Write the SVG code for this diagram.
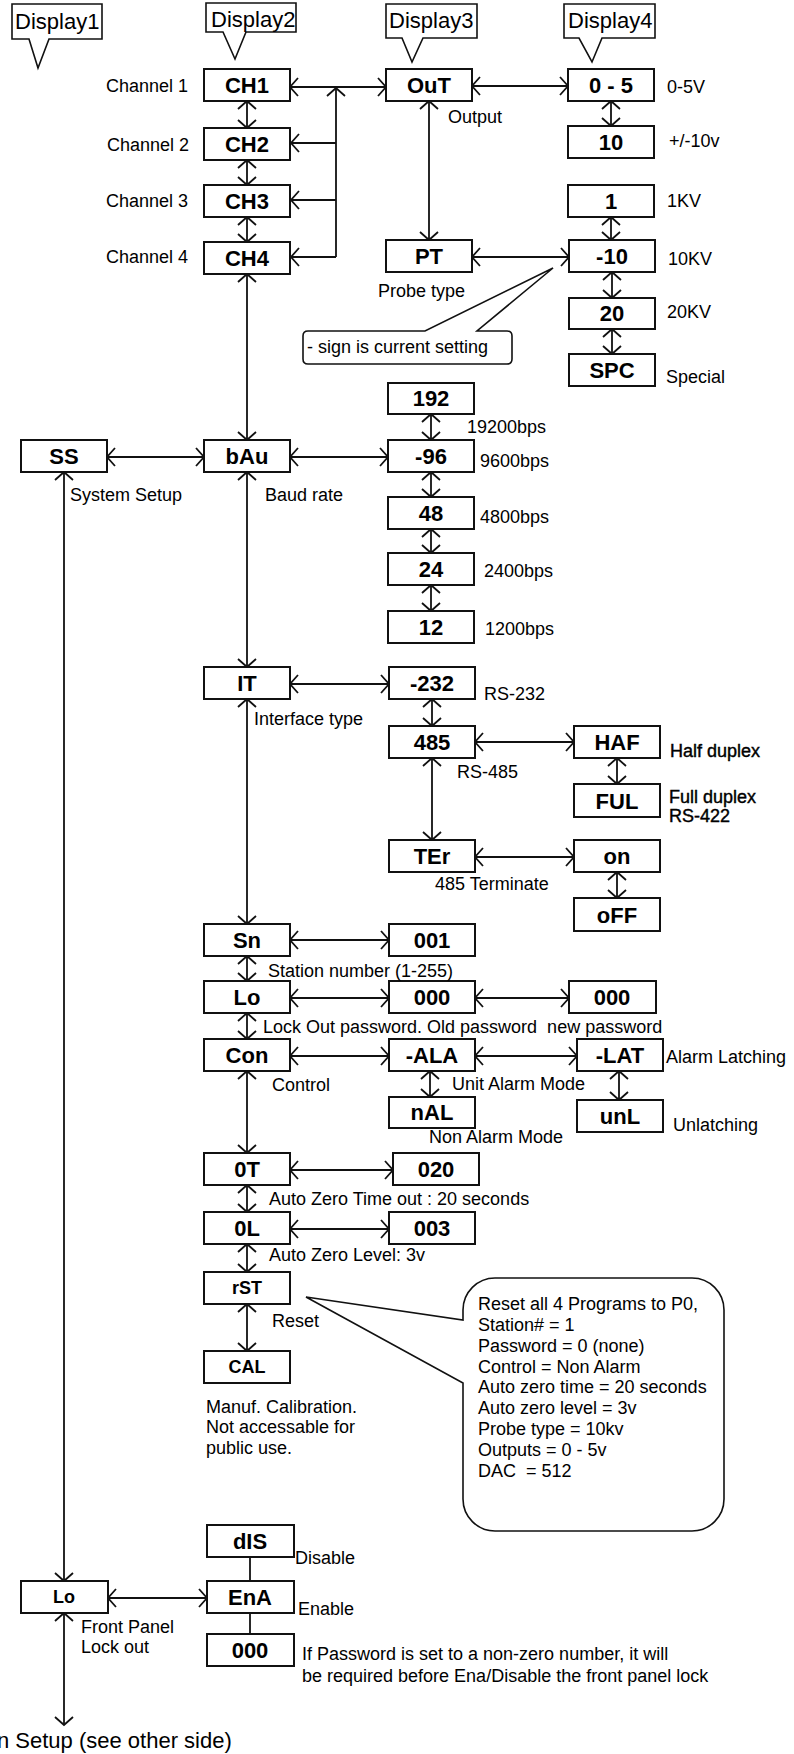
<svg xmlns="http://www.w3.org/2000/svg" width="794" height="1754" viewBox="0 0 794 1754">
<defs>
<style>
.box{fill:#fff;stroke:#111;stroke-width:2}
.co{fill:#fff;stroke:#111;stroke-width:1.6}
.bt{font-family:"Liberation Sans",Arial,sans-serif;font-weight:bold;font-size:22px;text-anchor:middle;fill:#000}
.bs{font-family:"Liberation Sans",Arial,sans-serif;font-weight:bold;font-size:18px;text-anchor:middle;fill:#000}
.lb{font-family:"Liberation Sans",Arial,sans-serif;font-size:18px;fill:#000;white-space:pre}
.hv{stroke:#000;stroke-width:0.4}
.dt{font-family:"Liberation Sans",Arial,sans-serif;font-size:22px;fill:#000}
.cn{fill:none;stroke:#111;stroke-width:1.8;marker-start:url(#a);marker-end:url(#a)}
.c1{fill:none;stroke:#111;stroke-width:1.8;marker-end:url(#a)}
.c0{fill:none;stroke:#111;stroke-width:1.8}
</style>
<marker id="a" viewBox="-12 -11 15 22" refX="0" refY="0" markerWidth="15" markerHeight="22" markerUnits="userSpaceOnUse" orient="auto-start-reverse">
<path d="M-8,-9 L0,0 L-8,9" fill="none" stroke="#111" stroke-width="1.8"/>
</marker>
</defs>
<rect width="794" height="1754" fill="#fff"/>

<g id="callouts">
<g id="display1"><path class="co" d="M12,4 H102 V39 H49 L38,68 L29,39 H12 Z"/><text class="dt" x="15" y="29">Display1</text></g>
<g id="display2"><path class="co" d="M206,3 H296 V32 H246 L235,59 L223,32 H206 Z"/><text class="dt" x="211" y="27">Display2</text></g>
<g id="display3"><path class="co" d="M386,4 H477 V38 H423 L412,62 L402,38 H386 Z"/><text class="dt" x="389" y="28">Display3</text></g>
<g id="display4"><path class="co" d="M564,4 H655 V38 H602 L592,62 L579,38 H564 Z"/><text class="dt" x="568" y="28">Display4</text></g>
<g id="note-sign"><path class="co" d="M308,331 H425 L553,268 L477,331 H507 Q512,331 512,336 V359 Q512,364 507,364 H308 Q303,364 303,359 V336 Q303,331 308,331 Z"/><text class="lb" x="307" y="353">- sign is current setting</text></g>
<g id="note-reset"><path class="co" d="M495,1278 H692 A32,32 0 0 1 724,1310 V1499 A32,32 0 0 1 692,1531 H495 A32,32 0 0 1 463,1499 V1383 L306,1297 L463,1320 V1310 A32,32 0 0 1 495,1278 Z"/>
<text class="lb" x="478" y="1310">Reset all 4 Programs to P0,</text>
<text class="lb" x="478" y="1331">Station# = 1</text>
<text class="lb" x="478" y="1352">Password = 0 (none)</text>
<text class="lb" x="478" y="1373">Control = Non Alarm</text>
<text class="lb" x="478" y="1393">Auto zero time = 20 seconds</text>
<text class="lb" x="478" y="1414">Auto zero level = 3v</text>
<text class="lb" x="478" y="1435">Probe type = 10kv</text>
<text class="lb" x="478" y="1456">Outputs = 0 - 5v</text>
<text class="lb" x="478" y="1477" xml:space="preserve">DAC  = 512</text>
</g>
</g>

<g id="connectors">
<path class="cn" d="M290,87 H386"/>
<path class="c1" d="M336,257 V88"/>
<path class="c1" d="M336,143 H291"/>
<path class="c1" d="M336,200 H291"/>
<path class="c1" d="M336,257 H291"/>
<path class="cn" d="M247,101 V128"/>
<path class="cn" d="M247,160 V185"/>
<path class="cn" d="M247,217 V242"/>
<path class="cn" d="M472,86 H568"/>
<path class="cn" d="M611,101 V126"/>
<path class="cn" d="M429,101 V240"/>
<path class="cn" d="M472,257 H569"/>
<path class="cn" d="M611,217 V240"/>
<path class="cn" d="M612,272 V298"/>
<path class="cn" d="M612,329 V354"/>
<path class="cn" d="M247,274 V440"/>
<path class="cn" d="M107,457 H204"/>
<path class="cn" d="M290,457 H388"/>
<path class="cn" d="M431,414 V440"/>
<path class="cn" d="M431,472 V497"/>
<path class="cn" d="M431,529 V553"/>
<path class="cn" d="M431,585 V611"/>
<path class="cn" d="M247,472 V667"/>
<path class="cn" d="M290,684 H389"/>
<path class="cn" d="M432,699 V726"/>
<path class="cn" d="M475,742 H574"/>
<path class="cn" d="M617,758 V784"/>
<path class="cn" d="M432,758 V840"/>
<path class="cn" d="M475,857 H574"/>
<path class="cn" d="M617,872 V898"/>
<path class="cn" d="M247,699 V924"/>
<path class="cn" d="M290,940 H389"/>
<path class="cn" d="M247,956 V981"/>
<path class="cn" d="M290,998 H389"/>
<path class="cn" d="M475,998 H569"/>
<path class="cn" d="M247,1013 V1039"/>
<path class="cn" d="M290,1056 H389"/>
<path class="cn" d="M475,1056 H577"/>
<path class="cn" d="M430,1071 V1097"/>
<path class="cn" d="M619,1071 V1100"/>
<path class="cn" d="M247,1071 V1153"/>
<path class="cn" d="M290,1170 H393"/>
<path class="cn" d="M247,1185 V1212"/>
<path class="cn" d="M290,1229 H389"/>
<path class="cn" d="M247,1244 V1272"/>
<path class="cn" d="M247,1304 V1351"/>
<path class="cn" d="M64,472 V1581"/>
<path class="cn" d="M108,1598 H207"/>
<path class="c0" d="M250,1557 V1581"/>
<path class="c0" d="M250,1613 V1634"/>
<path class="cn" d="M64,1613 V1725"/>
</g>

<g id="nodes">
<g id="ch1"><rect class="box" x="204" y="69" width="86" height="32"/><text class="bt" x="247" y="93">CH1</text></g>
<g id="ch2"><rect class="box" x="204" y="128" width="86" height="32"/><text class="bt" x="247" y="152">CH2</text></g>
<g id="ch3"><rect class="box" x="204" y="185" width="86" height="32"/><text class="bt" x="247" y="209">CH3</text></g>
<g id="ch4"><rect class="box" x="204" y="242" width="86" height="32"/><text class="bt" x="247" y="266">CH4</text></g>
<g id="out"><rect class="box" x="386" y="69" width="86" height="32"/><text class="bt" x="429" y="93">OuT</text></g>
<g id="pt"><rect class="box" x="386" y="240" width="86" height="32"/><text class="bt" x="429" y="264">PT</text></g>
<g id="o05"><rect class="box" x="568" y="69" width="86" height="32"/><text class="bt" x="611" y="93">0 - 5</text></g>
<g id="o10"><rect class="box" x="568" y="126" width="86" height="32"/><text class="bt" x="611" y="150">10</text></g>
<g id="p1"><rect class="box" x="568" y="185" width="86" height="32"/><text class="bt" x="611" y="209">1</text></g>
<g id="p10"><rect class="box" x="569" y="240" width="86" height="32"/><text class="bt" x="612" y="264">-10</text></g>
<g id="p20"><rect class="box" x="569" y="298" width="86" height="31"/><text class="bt" x="612" y="321">20</text></g>
<g id="spc"><rect class="box" x="569" y="354" width="86" height="32"/><text class="bt" x="612" y="378">SPC</text></g>
<g id="ss"><rect class="box" x="21" y="440" width="86" height="32"/><text class="bt" x="64" y="464">SS</text></g>
<g id="bau"><rect class="box" x="204" y="440" width="86" height="32"/><text class="bt" x="247" y="464">bAu</text></g>
<g id="b192"><rect class="box" x="388" y="383" width="86" height="31"/><text class="bt" x="431" y="406">192</text></g>
<g id="b96"><rect class="box" x="388" y="440" width="86" height="32"/><text class="bt" x="431" y="464">-96</text></g>
<g id="b48"><rect class="box" x="388" y="497" width="86" height="32"/><text class="bt" x="431" y="521">48</text></g>
<g id="b24"><rect class="box" x="388" y="553" width="86" height="32"/><text class="bt" x="431" y="577">24</text></g>
<g id="b12"><rect class="box" x="388" y="611" width="86" height="32"/><text class="bt" x="431" y="635">12</text></g>
<g id="it"><rect class="box" x="204" y="667" width="86" height="32"/><text class="bt" x="247" y="691">IT</text></g>
<g id="i232"><rect class="box" x="389" y="667" width="86" height="32"/><text class="bt" x="432" y="691">-232</text></g>
<g id="i485"><rect class="box" x="389" y="726" width="86" height="32"/><text class="bt" x="432" y="750">485</text></g>
<g id="haf"><rect class="box" x="574" y="726" width="86" height="32"/><text class="bt" x="617" y="750">HAF</text></g>
<g id="ful"><rect class="box" x="574" y="784" width="86" height="33"/><text class="bt" x="617" y="809">FUL</text></g>
<g id="ter"><rect class="box" x="389" y="840" width="86" height="32"/><text class="bt" x="432" y="864">TEr</text></g>
<g id="on"><rect class="box" x="574" y="840" width="86" height="32"/><text class="bt" x="617" y="864">on</text></g>
<g id="off"><rect class="box" x="574" y="898" width="86" height="33"/><text class="bt" x="617" y="923">oFF</text></g>
<g id="sn"><rect class="box" x="204" y="924" width="86" height="32"/><text class="bt" x="247" y="948">Sn</text></g>
<g id="s001"><rect class="box" x="389" y="924" width="86" height="32"/><text class="bt" x="432" y="948">001</text></g>
<g id="lo"><rect class="box" x="204" y="981" width="86" height="32"/><text class="bt" x="247" y="1005">Lo</text></g>
<g id="old000"><rect class="box" x="389" y="981" width="86" height="32"/><text class="bt" x="432" y="1005">000</text></g>
<g id="new000"><rect class="box" x="569" y="981" width="87" height="32"/><text class="bt" x="612" y="1005">000</text></g>
<g id="con"><rect class="box" x="204" y="1039" width="86" height="32"/><text class="bt" x="247" y="1063">Con</text></g>
<g id="ala"><rect class="box" x="389" y="1039" width="86" height="32"/><text class="bt" x="432" y="1063">-ALA</text></g>
<g id="lat"><rect class="box" x="577" y="1039" width="86" height="32"/><text class="bt" x="620" y="1063">-LAT</text></g>
<g id="nal"><rect class="box" x="389" y="1097" width="86" height="31"/><text class="bt" x="432" y="1120">nAL</text></g>
<g id="unl"><rect class="box" x="577" y="1100" width="86" height="32"/><text class="bt" x="620" y="1124">unL</text></g>
<g id="ot"><rect class="box" x="204" y="1153" width="86" height="32"/><text class="bt" x="247" y="1177">0T</text></g>
<g id="t020"><rect class="box" x="393" y="1153" width="86" height="32"/><text class="bt" x="436" y="1177">020</text></g>
<g id="ol"><rect class="box" x="204" y="1212" width="86" height="32"/><text class="bt" x="247" y="1236">0L</text></g>
<g id="l003"><rect class="box" x="389" y="1212" width="86" height="32"/><text class="bt" x="432" y="1236">003</text></g>
<g id="rst"><rect class="box" x="204" y="1272" width="86" height="32"/><text class="bs" x="247" y="1294">rST</text></g>
<g id="cal"><rect class="box" x="204" y="1351" width="86" height="32"/><text class="bs" x="247" y="1373">CAL</text></g>
<g id="dis"><rect class="box" x="207" y="1525" width="87" height="32"/><text class="bt" x="250" y="1549">dIS</text></g>
<g id="ena"><rect class="box" x="207" y="1581" width="87" height="32"/><text class="bt" x="250" y="1605">EnA</text></g>
<g id="pw000"><rect class="box" x="207" y="1634" width="87" height="32"/><text class="bt" x="250" y="1658">000</text></g>
<g id="fplo"><rect class="box" x="21" y="1581" width="87" height="32"/><text class="bs" x="64" y="1603">Lo</text></g>
</g>

<g id="labels">
<text class="lb" x="106" y="92">Channel 1</text>
<text class="lb" x="107" y="151">Channel 2</text>
<text class="lb" x="106" y="207">Channel 3</text>
<text class="lb" x="106" y="263">Channel 4</text>
<text class="lb" x="448" y="123">Output</text>
<text class="lb" x="667" y="93">0-5V</text>
<text class="lb" x="669" y="147">+/-10v</text>
<text class="lb" x="667" y="207">1KV</text>
<text class="lb" x="668" y="265">10KV</text>
<text class="lb" x="667" y="318">20KV</text>
<text class="lb" x="666" y="383">Special</text>
<text class="lb" x="378" y="297">Probe type</text>
<text class="lb" x="70" y="501">System Setup</text>
<text class="lb" x="265" y="501">Baud rate</text>
<text class="lb" x="467" y="433">19200bps</text>
<text class="lb" x="480" y="467">9600bps</text>
<text class="lb" x="480" y="523">4800bps</text>
<text class="lb" x="484" y="577">2400bps</text>
<text class="lb" x="485" y="635">1200bps</text>
<text class="lb" x="484" y="700">RS-232</text>
<text class="lb" x="254" y="725">Interface type</text>
<text class="lb hv" x="670" y="757">Half duplex</text>
<text class="lb" x="457" y="778">RS-485</text>
<text class="lb hv" x="669" y="803">Full duplex</text>
<text class="lb hv" x="669" y="822">RS-422</text>
<text class="lb" x="435" y="890">485 Terminate</text>
<text class="lb" x="268" y="977">Station number (1-255)</text>
<text class="lb" x="263" y="1033" xml:space="preserve">Lock Out password. Old password  new password</text>
<text class="lb" x="666" y="1063">Alarm Latching</text>
<text class="lb" x="272" y="1091">Control</text>
<text class="lb" x="452" y="1090">Unit Alarm Mode</text>
<text class="lb" x="673" y="1131">Unlatching</text>
<text class="lb" x="429" y="1143">Non Alarm Mode</text>
<text class="lb" x="269" y="1205">Auto Zero Time out : 20 seconds</text>
<text class="lb" x="269" y="1261">Auto Zero Level: 3v</text>
<text class="lb" x="272" y="1327">Reset</text>
<text class="lb" x="206" y="1413">Manuf. Calibration.</text>
<text class="lb" x="206" y="1433">Not accessable for</text>
<text class="lb" x="206" y="1454">public use.</text>
<text class="lb" x="295" y="1564">Disable</text>
<text class="lb" x="298" y="1615">Enable</text>
<text class="lb" x="81" y="1633">Front Panel</text>
<text class="lb" x="81" y="1653">Lock out</text>
<text class="lb" x="302" y="1660">If Password is set to a non-zero number, it will</text>
<text class="lb" x="302" y="1682">be required before Ena/Disable the front panel lock</text>
<text class="dt" x="-3" y="1748">n Setup (see other side)</text>
</g>
</svg>
